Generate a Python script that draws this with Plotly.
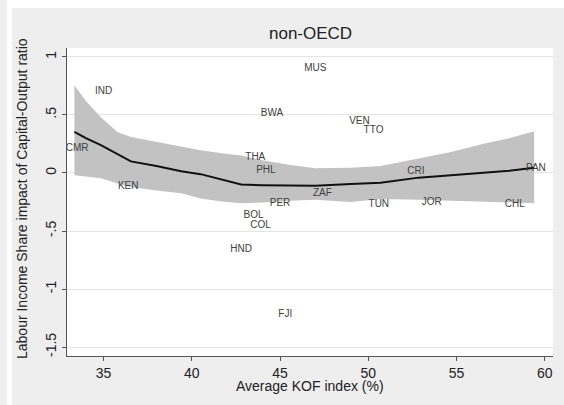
import plotly.graph_objects as go

# Country labels (x = Average KOF index, y = impact)
countries = ["CMR", "IND", "KEN", "MUS", "BWA", "VEN", "TTO", "THA", "PHL", "ZAF",
             "PER", "TUN", "CRI", "JOR", "CHL", "PAN", "BOL", "COL", "HND", "FJI"]
kof = [33.5, 35.0, 36.4, 47.0, 44.55, 49.5, 50.3, 43.6, 44.2, 47.4,
       45.0, 50.6, 52.7, 53.6, 58.3, 59.5, 43.5, 43.9, 42.8, 45.3]
impact = [0.21, 0.70, -0.12, 0.90, 0.515, 0.446, 0.37, 0.13, 0.02, -0.18,
          -0.26, -0.27, 0.01, -0.25, -0.27, 0.04, -0.37, -0.45, -0.66, -1.22]

# Smoothed fit with confidence band
fit_x = [33.35, 34.0, 34.85, 35.8, 36.55, 38.0, 39.4, 40.5, 41.7, 42.8, 44.0,
         45.5, 47.0, 49.0, 50.7, 52.85, 54.7, 56.6, 58.0, 59.4]
fit_y = [0.355, 0.30, 0.24, 0.16, 0.10, 0.06, 0.015, -0.01, -0.06, -0.10, -0.105,
         -0.11, -0.11, -0.095, -0.085, -0.04, -0.02, 0.00, 0.02, 0.045]
ci_hi = [0.755, 0.62, 0.48, 0.35, 0.31, 0.27, 0.23, 0.195, 0.17, 0.15, 0.11,
         0.07, 0.04, 0.045, 0.06, 0.125, 0.18, 0.255, 0.30, 0.36]
ci_lo = [-0.02, -0.03, -0.045, -0.09, -0.12, -0.15, -0.175, -0.22, -0.245, -0.26, -0.255,
         -0.24, -0.23, -0.25, -0.225, -0.23, -0.24, -0.25, -0.255, -0.26]

x_ticks = [35, 40, 45, 50, 55, 60]
y_ticks = [-1.5, -1, -0.5, 0, 0.5, 1]
y_ticktext = ["-1.5", "-1", "-.5", "0", ".5", "1"]

W, H = 564, 405
L, R, T, B = 67, 11, 48, 49
pw, ph = W - L - R, H - T - B

def px_x(p):
    return (p - L) / pw

def px_y(p):
    return (H - B - p) / ph

fig = go.Figure()
fig.add_trace(go.Scatter(x=fit_x, y=ci_hi, mode="lines", line=dict(width=0, color="#c2c2c2"),
                         showlegend=False, hoverinfo="skip"))
fig.add_trace(go.Scatter(x=fit_x, y=ci_lo, mode="lines", line=dict(width=0, color="#c2c2c2"),
                         fill="tonexty", fillcolor="#c2c2c2", showlegend=False, hoverinfo="skip"))
fig.add_trace(go.Scatter(x=fit_x, y=fit_y, mode="lines", line=dict(width=2, color="#111111"),
                         showlegend=False))
fig.add_trace(go.Scatter(x=kof, y=impact, mode="text", text=countries,
                         textposition="middle center",
                         textfont=dict(family="Liberation Sans, Arial", size=10, color="#404040"),
                         showlegend=False))

font = "Liberation Sans, Arial"
fig.update_layout(
    width=W, height=H,
    margin=dict(l=L, r=R, t=T, b=B),
    paper_bgcolor="#eeeeee",
    plot_bgcolor="#ffffff",
    font=dict(family=font, color="#222222"),
    xaxis=dict(range=[32.93, 60.47], tickvals=x_ticks, ticks="outside", ticklen=4,
               tickcolor="#555555", showline=True, linecolor="#555555", linewidth=1,
               showgrid=False, zeroline=False, tickfont=dict(size=14, color="#222222")),
    yaxis=dict(range=[-1.577, 1.077], tickvals=y_ticks, ticktext=y_ticktext, tickangle=-90,
               ticks="outside", ticklen=4, tickcolor="#555555", showline=True,
               linecolor="#555555", linewidth=1, showgrid=True, gridcolor="#e4e4e4",
               gridwidth=1, zeroline=False, tickfont=dict(size=14, color="#222222")),
    annotations=[
        dict(text="non-OECD", xref="paper", yref="paper", x=px_x(310), y=px_y(33),
             xanchor="center", yanchor="middle", showarrow=False,
             font=dict(size=17, color="#222222")),
        dict(text="Average KOF index (%)", xref="paper", yref="paper", x=px_x(310), y=px_y(386),
             xanchor="center", yanchor="middle", showarrow=False,
             font=dict(size=14, color="#222222")),
        dict(text="Labour Income Share impact of Capital-Output ratio", xref="paper", yref="paper",
             x=px_x(22), y=px_y(199), xanchor="center", yanchor="middle", textangle=-90,
             showarrow=False, font=dict(size=14, color="#222222")),
    ],
    shapes=[
        dict(type="rect", xref="paper", yref="paper", x0=px_x(7), x1=px_x(12),
             y0=px_y(H), y1=px_y(0), fillcolor="#ffffff", line=dict(width=0), layer="below"),
        dict(type="rect", xref="paper", yref="paper", x0=px_x(7), x1=px_x(W),
             y0=px_y(8), y1=px_y(0), fillcolor="#ffffff", line=dict(width=0), layer="below"),
    ],
)

fig.write_html("out.html")
